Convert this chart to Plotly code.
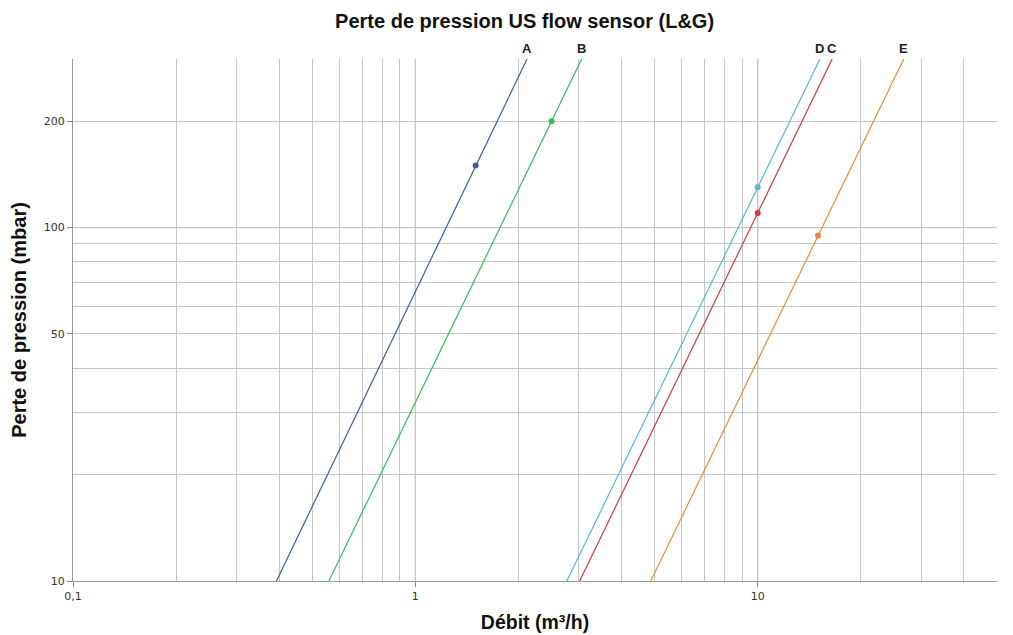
import plotly.graph_objects as go
import math

# Data
series_names = ["A", "B", "C", "D", "E"]
line_q_low = [0.393, 0.559, 3.02, 2.77, 4.87]     # m3/h at 10 mbar
line_q_high = [2.12, 3.06, 16.5, 15.2, 26.7]      # m3/h at 300 mbar
line_dp_low = [10, 10, 10, 10, 10]
line_dp_high = [300, 300, 300, 300, 300]
point_q = [1.5, 2.5, 10, 10, 15]
point_dp = [150, 200, 110, 130, 95]
colors = ["#3d5f97", "#2fbf5f", "#d9363e", "#5ab7cf", "#f0883a"]

x_tickvals = [0.1, 1, 10]
x_ticktext = ["0,1", "1", "10"]
x_minor = [0.2, 0.3, 0.4, 0.5, 0.6, 0.7, 0.8, 0.9, 2, 3, 4, 5, 6, 7, 8, 9, 20, 30, 40, 50]
y_tickvals = [10, 50, 100, 200]
y_ticktext = ["10", "50", "100", "200"]
y_minor = [20, 30, 40, 60, 70, 80, 90, 300]

fig = go.Figure()
for i, name in enumerate(series_names):
    fig.add_trace(go.Scatter(
        x=[line_q_low[i], line_q_high[i]], y=[line_dp_low[i], line_dp_high[i]],
        mode="lines", line=dict(color=colors[i], width=1.2), name=name,
        showlegend=False, hoverinfo="skip"))
    fig.add_trace(go.Scatter(
        x=[point_q[i]], y=[point_dp[i]], mode="markers",
        marker=dict(color=colors[i], size=6), name=name, showlegend=False))
    fig.add_annotation(x=math.log10(line_q_high[i]), y=math.log10(line_dp_high[i]),
                       xref="x", yref="y", text="<b>" + name + "</b>", showarrow=False,
                       yanchor="bottom", yshift=1,
                       font=dict(family="Liberation Sans", size=13, color="#222222"))

grid_light = "#c6c6c6"
grid_dark = "#8c8c8c"

# darker major gridlines
for xv in [1, 10]:
    fig.add_shape(type="line", xref="x", yref="paper", x0=xv, x1=xv, y0=0, y1=1,
                  line=dict(color=grid_dark, width=1), layer="below")
fig.add_shape(type="line", xref="paper", yref="y", x0=0, x1=1, y0=100, y1=100,
              line=dict(color=grid_dark, width=1), layer="below")

fig.update_layout(
    width=1005, height=627,
    paper_bgcolor="white", plot_bgcolor="white",
    margin=dict(l=65, r=16, t=51, b=54),
    title=dict(text="<b>Perte de pression US flow sensor (L&G)</b>",
               x=0.514, xref="container", xanchor="center", y=0.979, yanchor="middle",
               font=dict(family="Liberation Sans", size=20, color="#111111")),
    xaxis=dict(type="log", range=[-1, math.log10(50)], automargin=False,
               tickvals=x_tickvals, ticktext=x_ticktext,
               showgrid=True, gridcolor=grid_light, gridwidth=1,
               ticks="outside", ticklen=5, tickcolor="#888888",
               showline=True, linecolor="#999999", linewidth=1,
               minor=dict(tickvals=x_minor, showgrid=True, gridcolor=grid_light, ticks=""),
               tickfont=dict(family="DejaVu Sans", size=11, color="#333333"),
               title=dict(text="<b>Débit (m³/h)</b>", standoff=13,
                          font=dict(family="Liberation Sans", size=19.5, color="#111111")),
               zeroline=False, mirror=False),
    yaxis=dict(type="log", range=[1, math.log10(300)], automargin=False,
               tickvals=y_tickvals, ticktext=y_ticktext,
               showgrid=True, gridcolor=grid_light, gridwidth=1,
               ticks="outside", ticklen=5, tickcolor="#888888",
               showline=True, linecolor="#999999", linewidth=1,
               minor=dict(tickvals=y_minor, showgrid=True, gridcolor=grid_light, ticks=""),
               tickfont=dict(family="DejaVu Sans", size=11, color="#333333"),
               title=dict(text="<b>Perte de pression (mbar)</b>", standoff=11,
                          font=dict(family="Liberation Sans", size=20, color="#111111")),
               zeroline=False),
)

fig.write_html("out.html")
